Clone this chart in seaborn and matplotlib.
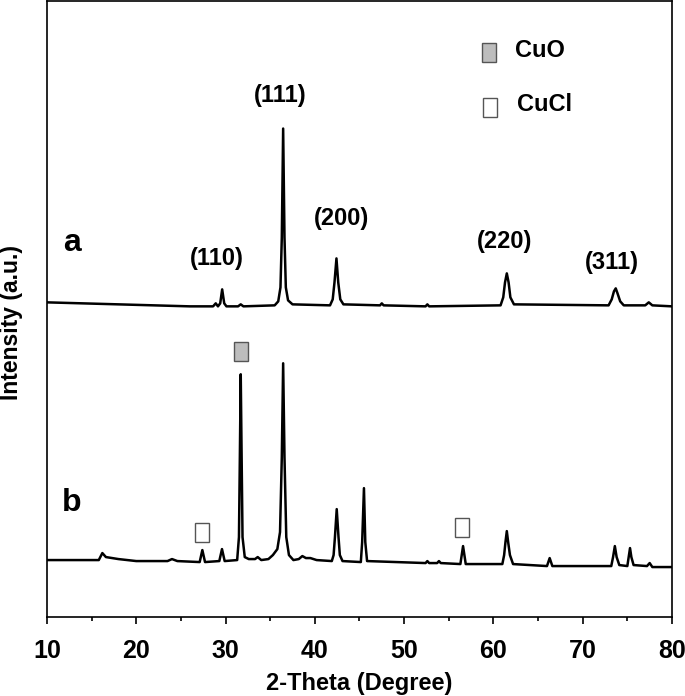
import matplotlib
matplotlib.use("Agg")
import matplotlib.pyplot as plt
from matplotlib.patches import Rectangle
from matplotlib.ticker import MultipleLocator
from matplotlib import font_manager
import seaborn as sns
import pandas as pd

sns.set_theme(style="white")
names = {f.name for f in font_manager.fontManager.ttflist}
base_font = 'Liberation Sans'
narrow_font = 'Liberation Sans Narrow' if 'Liberation Sans Narrow' in names else base_font
plt.rcParams['font.family'] = [base_font, 'DejaVu Sans']
plt.rcParams['font.weight'] = 'bold'
plt.rcParams['text.color'] = 'black'
plt.rcParams['axes.labelcolor'] = 'black'
plt.rcParams['xtick.color'] = 'black'

# Curve a (2-theta, intensity a.u.)
a_theta = [10, 14, 18, 22, 26, 28.6, 28.9, 29.15, 29.4, 29.62, 29.85, 30.1, 31.4, 31.7, 32,
           35.5, 35.9, 36.15, 36.3, 36.45, 36.6, 36.75, 37.0, 37.5, 41.7, 42.0, 42.2, 42.42,
           42.62, 42.85, 43.2, 47.3, 47.5, 47.7, 52.4, 52.6, 52.8, 60.8, 61.1, 61.3, 61.5,
           61.7, 61.9, 62.3, 72.9, 73.25, 73.5, 73.7, 73.9, 74.2, 74.6, 77.0, 77.4, 77.8, 80]
a_int = [315, 314, 313, 312, 311, 311, 314, 311, 314, 328, 314, 311, 311, 313, 311,
         312, 316, 330, 380, 489, 380, 330, 317, 313, 312, 318, 335, 359,
         335, 318, 313, 312, 314, 312, 311, 313, 311, 312, 320, 335, 344,
         335, 320, 313, 312, 318, 326, 329, 324, 316, 312, 312, 315, 312, 311]

# Curve b
b_theta = [10, 15.8, 16.2, 16.6, 18, 20, 23.5, 24.0, 24.6, 27.1, 27.4, 27.7, 29.3, 29.6, 29.9,
           31.3, 31.5, 31.6, 31.7, 31.8, 31.9, 32.15, 32.6, 33.3, 33.6, 34.0, 34.8, 35.3, 35.8,
           36.1, 36.3, 36.45, 36.6, 36.8, 37.1, 37.6, 38.2, 38.6, 39.0, 39.5, 40.2, 41.9, 42.1,
           42.25, 42.45, 42.65, 42.8, 43.1, 45.15, 45.3, 45.5, 45.65, 45.85, 52.4, 52.6, 52.8,
           53.7, 53.9, 54.1, 56.3, 56.6, 56.9, 61.0, 61.2, 61.35, 61.5, 61.65, 61.85, 62.2,
           66.0, 66.3, 66.6, 73.2, 73.4, 73.6, 73.8, 74.1, 75.0, 75.15, 75.3, 75.45, 75.7,
           77.2, 77.5, 77.8, 80]
b_int = [57, 57, 64, 60, 58, 56, 56, 58, 56, 55, 67, 55, 56, 68, 56,
         57, 80, 160, 243, 160, 80, 60, 58, 58, 60, 57, 58, 62, 68,
         85, 160, 254, 160, 80, 62, 57, 58, 61, 59, 59, 57, 56, 62,
         80, 108, 80, 62, 56, 55, 75, 129, 75, 56, 54, 56, 54,
         54, 56, 54, 53, 71, 53, 53, 62, 75, 86, 75, 62, 53,
         51, 59, 51, 51, 60, 71, 60, 52, 51, 60, 69, 60, 52,
         51, 54, 50, 50]

plane_labels = ["(110)", "(111)", "(200)", "(220)", "(311)"]
plane_x = [29.0, 36.1, 43.0, 61.3, 73.3]
plane_y = [359, 522, 399, 376, 355]

phase_names = ["CuO", "CuCl"]
phase_colors = ["#bdbdbd", "white"]
cuo_marks = [(31.7, 266)]
cucl_marks = [(27.4, 85), (56.5, 90)]

df_a = pd.DataFrame({"theta": a_theta, "I": a_int})
df_b = pd.DataFrame({"theta": b_theta, "I": b_int})

fig = plt.figure(figsize=(6.85, 6.96), dpi=100)
ax = fig.add_axes([0.0686, 0.1135, 0.9124, 0.8855])

sns.lineplot(data=df_a, x="theta", y="I", ax=ax, color="black", lw=1.8, estimator=None, sort=False)
sns.lineplot(data=df_b, x="theta", y="I", ax=ax, color="black", lw=1.8, estimator=None, sort=False)

ax.set_xlim(10, 80)
ax.set_ylim(0, 617)
ax.set_yticks([])
ax.xaxis.set_major_locator(MultipleLocator(10))
ax.xaxis.set_minor_locator(MultipleLocator(5))
ax.tick_params(axis='x', which='major', direction='out', length=5, width=1.2,
               labelsize=18, bottom=True, pad=11)
ax.tick_params(axis='x', which='minor', direction='out', length=3, width=1.2, bottom=True)
for lab in ax.get_xticklabels():
    lab.set_fontweight('bold')
    lab.set_family([narrow_font, 'DejaVu Sans'])
for s in ax.spines.values():
    s.set_color('black')
    s.set_linewidth(1.2)

ax.set_xlabel("2-Theta (Degree)", fontsize=17, fontweight='bold', labelpad=6,
              family=[narrow_font, 'DejaVu Sans'])
ax.set_ylabel("Intensity (a.u.)", fontsize=16.5, fontweight='bold')
ax.yaxis.set_label_coords(-0.038, 0.478)

for t, x, y in zip(plane_labels, plane_x, plane_y):
    ax.text(x, y, t, ha='center', va='center', fontsize=17, fontweight='bold')

ax.text(12.8, 374, "a", ha='center', va='center', fontsize=23, fontweight='bold')
ax.text(12.8, 114, "b", ha='center', va='center', fontsize=23, fontweight='bold')

w, h = 1.6, 19
def box(x, y, color):
    ax.add_patch(Rectangle((x - w / 2, y - h / 2), w, h, facecolor=color,
                           edgecolor='#555555', lw=1.0, zorder=3))

for (x, y) in cuo_marks:
    box(x, y, phase_colors[0])
for (x, y) in cucl_marks:
    box(x, y, phase_colors[1])

# legend-like key
box(59.5, 565, phase_colors[0])
box(59.6, 510, phase_colors[1])
ax.text(62.4, 567, phase_names[0], ha='left', va='center', fontsize=17, fontweight='bold')
ax.text(62.6, 513, phase_names[1], ha='left', va='center', fontsize=17, fontweight='bold')

fig.savefig("out.png", dpi=100)
